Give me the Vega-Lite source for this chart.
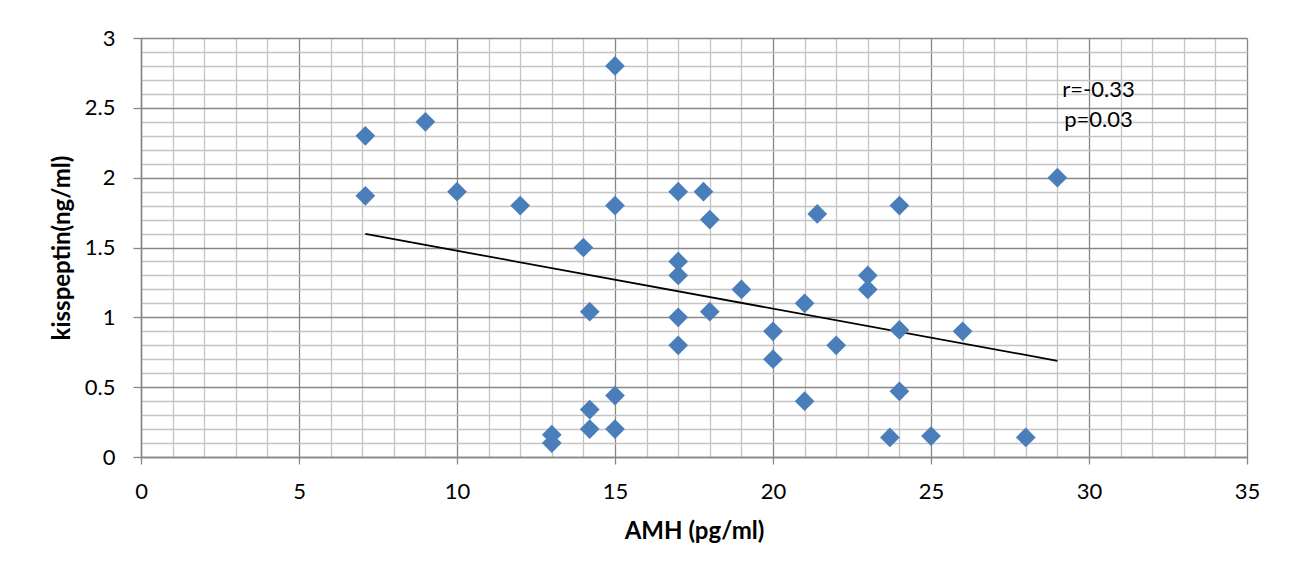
{
  "$schema": "https://vega.github.io/schema/vega-lite/v6.json",
  "width": 1106,
  "height": 419,
  "autosize": {"type": "none"},
  "padding": {"left": 141, "top": 38, "right": 42, "bottom": 119},
  "background": "white",
  "config": {
    "view": {"stroke": null},
    "font": "Lato"
  },
  "datasets": {
    "points": [
      {"amh": 7.1, "kiss": 2.3},
      {"amh": 7.1, "kiss": 1.87},
      {"amh": 9, "kiss": 2.4},
      {"amh": 10, "kiss": 1.9},
      {"amh": 12, "kiss": 1.8},
      {"amh": 13, "kiss": 0.16},
      {"amh": 13, "kiss": 0.1},
      {"amh": 14, "kiss": 1.5},
      {"amh": 14.2, "kiss": 1.04},
      {"amh": 14.2, "kiss": 0.34},
      {"amh": 14.2, "kiss": 0.2},
      {"amh": 15, "kiss": 2.8},
      {"amh": 15, "kiss": 1.8},
      {"amh": 15, "kiss": 0.44},
      {"amh": 15, "kiss": 0.2},
      {"amh": 17, "kiss": 1.9},
      {"amh": 17, "kiss": 1.4},
      {"amh": 17, "kiss": 1.3},
      {"amh": 17, "kiss": 1.0},
      {"amh": 17, "kiss": 0.8},
      {"amh": 17.8, "kiss": 1.9},
      {"amh": 18, "kiss": 1.7},
      {"amh": 18, "kiss": 1.04},
      {"amh": 19, "kiss": 1.2},
      {"amh": 20, "kiss": 0.9},
      {"amh": 20, "kiss": 0.7},
      {"amh": 21, "kiss": 1.1},
      {"amh": 21, "kiss": 0.4},
      {"amh": 21.4, "kiss": 1.74},
      {"amh": 22, "kiss": 0.8},
      {"amh": 23, "kiss": 1.3},
      {"amh": 23, "kiss": 1.2},
      {"amh": 23.7, "kiss": 0.14},
      {"amh": 24, "kiss": 1.8},
      {"amh": 24, "kiss": 0.91},
      {"amh": 24, "kiss": 0.47},
      {"amh": 25, "kiss": 0.15},
      {"amh": 26, "kiss": 0.9},
      {"amh": 28, "kiss": 0.14},
      {"amh": 29, "kiss": 2.0}
    ],
    "trend": [
      {"amh": 7.1, "kiss": 1.597},
      {"amh": 29, "kiss": 0.689}
    ],
    "notes": [
      {"amh": 30.3, "kiss": 2.63, "label": "r=-0.33"},
      {"amh": 30.3, "kiss": 2.41, "label": "p=0.03"}
    ]
  },
  "encoding": {
    "x": {
      "field": "amh",
      "type": "quantitative",
      "scale": {"domain": [0, 35], "nice": false, "zero": false},
      "axis": {
        "title": "AMH (pg/ml)",
        "values": [0,1,2,3,4,5,6,7,8,9,10,11,12,13,14,15,16,17,18,19,20,21,22,23,24,25,26,27,28,29,30,31,32,33,34,35],
        "format": "d",
        "labelExpr": "datum.value % 5 === 0 ? datum.label : ''",
        "grid": true,
        "gridColor": {"condition": {"test": "datum.value % 5 === 0", "value": "#868686"}, "value": "#c4c4c4"},
        "gridWidth": 1.3,
        "gridOpacity": 1,
        "ticks": true,
        "tickSize": 7,
        "tickWidth": 1.3,
        "tickColor": "#868686",
        "tickOpacity": {"condition": {"test": "datum.value % 5 === 0", "value": 1}, "value": 0},
        "domain": true,
        "domainColor": "#868686",
        "domainWidth": 1.5,
        "labelFont": "Lato",
        "labelFontSize": 22,
        "labelColor": "#000000",
        "labelPadding": 17,
        "labelFlush": false,
        "labelOverlap": false,
        "titleFont": "Lato",
        "titleFontSize": 24,
        "titleFontWeight": "bold",
        "titleColor": "#000000",
        "titlePadding": 17
      }
    },
    "y": {
      "field": "kiss",
      "type": "quantitative",
      "scale": {"domain": [0, 3], "nice": false},
      "axis": {
        "title": "kisspeptin(ng/ml)",
        "values": [0,0.1,0.2,0.3,0.4,0.5,0.6,0.7,0.8,0.9,1,1.1,1.2,1.3,1.4,1.5,1.6,1.7,1.8,1.9,2,2.1,2.2,2.3,2.4,2.5,2.6,2.7,2.8,2.9,3],
        "format": "~g",
        "labelExpr": "round(datum.value*10) % 5 === 0 ? datum.label : ''",
        "grid": true,
        "gridColor": {"condition": {"test": "round(datum.value*10) % 5 === 0", "value": "#868686"}, "value": "#c4c4c4"},
        "gridWidth": 1.3,
        "gridOpacity": 1,
        "ticks": true,
        "tickSize": 8,
        "tickWidth": 1.3,
        "tickColor": "#868686",
        "tickOpacity": {"condition": {"test": "round(datum.value*10) % 5 === 0", "value": 1}, "value": 0},
        "domain": true,
        "domainColor": "#868686",
        "domainWidth": 1.5,
        "labelFont": "Lato",
        "labelFontSize": 22,
        "labelColor": "#000000",
        "labelPadding": 18,
        "labelFlush": false,
        "labelOverlap": false,
        "titleFont": "Lato",
        "titleFontSize": 24,
        "titleFontWeight": "bold",
        "titleColor": "#000000",
        "titlePadding": 10
      }
    }
  },
  "layer": [
    {
      "data": {"name": "trend"},
      "mark": {"type": "line", "color": "#000000", "strokeWidth": 1.8}
    },
    {
      "data": {"name": "points"},
      "mark": {"type": "point", "shape": "diamond", "filled": true, "size": 390, "color": "#4A7EBB", "opacity": 1, "strokeWidth": 0}
    },
    {
      "data": {"name": "notes"},
      "mark": {"type": "text", "font": "Lato", "fontSize": 22, "color": "#000000", "align": "center", "baseline": "middle"},
      "encoding": {"text": {"field": "label"}}
    }
  ]
}
